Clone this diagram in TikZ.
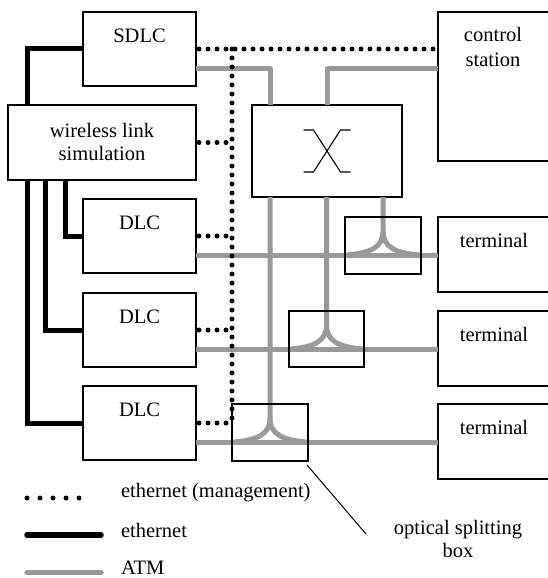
\documentclass[tikz,border=0pt]{standalone}
\usepackage{fontspec}
\setmainfont{Liberation Serif}
\definecolor{atmgray}{RGB}{153,153,153}
\begin{document}
\begin{tikzpicture}[x=1pt,y=-1pt,
  box/.style={draw, line width=1.1pt, fill=white, inner sep=0pt, outer sep=0pt},
  txt/.style={inner sep=0pt, outer sep=0pt, font=\fontsize{20.5}{23}\selectfont},
  atm/.style={draw=atmgray, line width=5pt, line join=round},
  eth/.style={draw=black, line width=5pt},
  mgmt/.style={draw=black, line width=5pt, line cap=round, dash pattern=on 0pt off 9pt},
  thinline/.style={draw=black, line width=1.1pt}
]
\useasboundingbox (0,0) rectangle (548,578);
\clip (0,0) rectangle (548,578);

% boxes
\node[box, minimum width=113pt, minimum height=74pt] (sdlc) at (139.5,49) {};
\node[box, minimum width=188pt, minimum height=75pt] (wls) at (102,142.5) {};
\node[box, minimum width=150pt, minimum height=92pt] (xbox) at (327,151) {};
\node[box, minimum width=112pt, minimum height=149pt] (ctrl) at (494,86.5) {};
\node[box, minimum width=113pt, minimum height=74pt] (dlc1) at (139.5,236) {};
\node[box, minimum width=113pt, minimum height=74pt] (dlc2) at (139.5,330) {};
\node[box, minimum width=113pt, minimum height=74pt] (dlc3) at (139.5,423) {};
\node[box, minimum width=112pt, minimum height=75pt] (term1) at (494,254.5) {};
\node[box, minimum width=112pt, minimum height=75pt] (term2) at (494,348.5) {};
\node[box, minimum width=112pt, minimum height=75pt] (term3) at (494,441.5) {};
% splitter boxes (outline drawn later, on top of ATM lines)
\node[inner sep=0pt, outer sep=0pt, minimum width=76pt, minimum height=57pt] (split1) at (383,245.5) {};
\node[inner sep=0pt, outer sep=0pt, minimum width=75pt, minimum height=56pt] (split2) at (326.5,339) {};
\node[inner sep=0pt, outer sep=0pt, minimum width=76pt, minimum height=57pt] (split3) at (270,432.5) {};

% texts
\node[txt, anchor=base] (sdlcT) at ([yshift=-31pt]sdlc.north) {SDLC};
\node[txt, align=center, anchor=north] (wlsT) at ([yshift=-18.5pt]wls.north) {wireless link\\simulation};
\node[txt, align=center, anchor=north] (ctrlT) at ([xshift=-1pt,yshift=-15.7pt]ctrl.north) {control\\[2pt]station};
\node[txt, anchor=base] (dlc1T) at ([yshift=-30pt]dlc1.north) {DLC};
\node[txt, anchor=base] (dlc2T) at ([yshift=-30pt]dlc2.north) {DLC};
\node[txt, anchor=base] (dlc3T) at ([yshift=-30pt]dlc3.north) {DLC};
\node[txt, anchor=base] (term1T) at ([yshift=-30.5pt]term1.north) {terminal};
\node[txt, anchor=base] (term2T) at ([yshift=-30.5pt]term2.north) {terminal};
\node[txt, anchor=base] (term3T) at ([yshift=-30.5pt]term3.north) {terminal};

% switch symbol
\draw[thinline] ([shift={(-23.5,-21)}]xbox.center) -- ++(10,0) -- ++(27,42) -- ++(10,0);
\draw[thinline] ([shift={(-23.5,21)}]xbox.center) -- ++(10,0) -- ++(27,-42) -- ++(10,0);

% ATM lines
\coordinate (h1) at ([yshift=-19pt]dlc1.east);
\coordinate (h2) at ([yshift=-19pt]dlc2.east);
\coordinate (h3) at ([yshift=-19pt]dlc3.east);
\coordinate (j1) at (split1.center |- h1);
\coordinate (j2) at (split2.center |- h2);
\coordinate (j3) at (split3.center |- h3);
\draw[atm] ([yshift=-20pt]sdlc.east) -| ([xshift=18pt]xbox.north west);
\draw[atm] ([yshift=17.5pt]ctrl.west) -| (xbox.north);
\draw[atm] (h1) -- (h1 -| term1.west);
\draw[atm] (h2) -- (h2 -| term2.west);
\draw[atm] (h3) -- (h3 -| term3.west);
\foreach \j in {j1,j2,j3}{
  \draw[atm] (xbox.south -| \j) -- ([yshift=24pt]\j)
     .. controls ([yshift=8pt]\j) and ([xshift=-12pt,yshift=2pt]\j) .. ([xshift=-36pt]\j);
  \draw[atm] ([yshift=24pt]\j)
     .. controls ([yshift=8pt]\j) and ([xshift=12pt,yshift=2pt]\j) .. ([xshift=36pt]\j);
}

% ethernet (management)
\coordinate (bt) at ([xshift=36pt]sdlc.east);
\draw[mgmt] ([xshift=3pt]sdlc.east) -- (sdlc.east -| ctrl.west);
\draw[mgmt] (bt) -- (bt |- dlc3.east);
\draw[mgmt] ([xshift=3pt]wls.east) -- (wls.east -| bt);
\draw[mgmt] ([xshift=3pt]dlc1.east) -- (dlc1.east -| bt);
\draw[mgmt] ([xshift=3pt]dlc2.east) -- (dlc2.east -| bt);
\draw[mgmt] ([xshift=3pt]dlc3.east) -- (dlc3.east -| bt);

% ethernet
\draw[eth] (sdlc.west) -| ([xshift=19pt]wls.north west);
\draw[eth] ([xshift=19pt]wls.south west) |- (dlc3.west);
\draw[eth] ([xshift=37pt]wls.south west) |- (dlc2.west);
\draw[eth] ([xshift=57pt]wls.south west) |- (dlc1.west);

% splitter outlines
\draw[thinline] (split1.north west) rectangle (split1.south east);
\draw[thinline] (split2.north west) rectangle (split2.south east);
\draw[thinline] (split3.north west) rectangle (split3.south east);

% annotation
\node[txt, align=center, anchor=north] (opt) at (458,520) {optical splitting\\box};
\coordinate (ld) at (366,534);
\draw[line width=1pt] ([xshift=-1pt,yshift=-4pt]split3.south east) -- (ld);

% legend
\coordinate (lg1a) at (27,498); \coordinate (lg1b) at (92,498);
\coordinate (lg2a) at (27,535); \coordinate (lg2b) at (101,535);
\coordinate (lg3a) at (27,572.5); \coordinate (lg3b) at (101,572.5);
\draw[mgmt, dash pattern=on 0pt off 13pt] (lg1a) -- (lg1b);
\draw[eth, line width=5.5pt, line cap=round] (lg2a) -- (lg2b);
\draw[atm, line width=5.5pt, line cap=round] (lg3a) -- (lg3b);
\node[txt, anchor=base west] (lgt1) at (121,497) {ethernet (management)};
\node[txt, anchor=base west] (lgt2) at (121,537) {ethernet};
\node[txt, anchor=base west] (lgt3) at (121,574) {ATM};
\end{tikzpicture}
\end{document}
